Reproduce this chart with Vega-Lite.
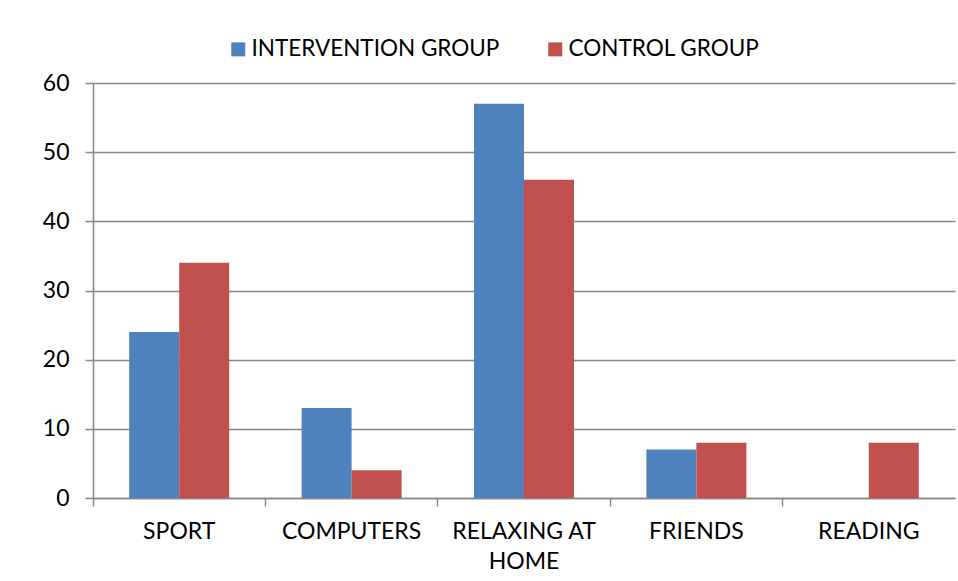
{
  "$schema": "https://vega.github.io/schema/vega-lite/v6.json",
  "autosize": "none",
  "width": 862,
  "height": 415,
  "padding": {"left": 93, "top": 83, "right": 3, "bottom": 83},
  "background": "white",
  "config": {
    "view": {"stroke": null},
    "font": "Lato",
    "axis": {"labelFont": "Lato", "labelFontSize": 23, "labelColor": "#000000", "domainColor": "#878787", "tickColor": "#878787", "gridColor": "#878787", "domainWidth": 1.5, "tickWidth": 1.5, "gridWidth": 1.5, "titleFontSize": 0},
    "legend": {"labelFont": "Lato", "labelFontSize": 22.5, "labelColor": "#000000", "labelLimit": 500}
  },
  "data": {
    "values": [
      {"activity": "SPORT", "group": "INTERVENTION GROUP", "value": 24},
      {"activity": "SPORT", "group": "CONTROL GROUP", "value": 34},
      {"activity": "COMPUTERS", "group": "INTERVENTION GROUP", "value": 13},
      {"activity": "COMPUTERS", "group": "CONTROL GROUP", "value": 4},
      {"activity": "RELAXING AT HOME", "group": "INTERVENTION GROUP", "value": 57},
      {"activity": "RELAXING AT HOME", "group": "CONTROL GROUP", "value": 46},
      {"activity": "FRIENDS", "group": "INTERVENTION GROUP", "value": 7},
      {"activity": "FRIENDS", "group": "CONTROL GROUP", "value": 8},
      {"activity": "READING", "group": "INTERVENTION GROUP", "value": null},
      {"activity": "READING", "group": "CONTROL GROUP", "value": 8}
    ]
  },
  "mark": {"type": "bar"},
  "encoding": {
    "x": {
      "field": "activity",
      "type": "nominal",
      "sort": null,
      "title": null,
      "scale": {"paddingInner": 0, "paddingOuter": 0},
      "axis": {
        "labelAngle": 0,
        "bandPosition": 0,
        "tickSize": 8,
        "labelPadding": 14,
        "labelBaseline": "top",
        "labelLineHeight": 30,
        "labelLimit": 300,
        "labelExpr": "datum.label == 'RELAXING AT HOME' ? ['RELAXING AT', 'HOME'] : datum.label",
        "grid": false
      }
    },
    "xOffset": {
      "field": "group",
      "type": "nominal",
      "sort": ["INTERVENTION GROUP", "CONTROL GROUP"],
      "scale": {"paddingInner": 0, "paddingOuter": 0.724}
    },
    "y": {
      "field": "value",
      "type": "quantitative",
      "title": null,
      "scale": {"domain": [0, 60], "nice": false},
      "axis": {"values": [0, 10, 20, 30, 40, 50, 60], "tickSize": 8, "labelPadding": 16, "grid": true}
    },
    "color": {
      "field": "group",
      "type": "nominal",
      "sort": ["INTERVENTION GROUP", "CONTROL GROUP"],
      "scale": {"domain": ["INTERVENTION GROUP", "CONTROL GROUP"], "range": ["#4F81BD", "#C0504D"]},
      "legend": {
        "title": null,
        "orient": "none",
        "direction": "horizontal",
        "legendX": 134,
        "legendY": -45,
        "symbolType": "square",
        "symbolSize": 196,
        "symbolStrokeWidth": 0,
        "labelOffset": 2,
        "columnPadding": 44
      }
    }
  }
}
